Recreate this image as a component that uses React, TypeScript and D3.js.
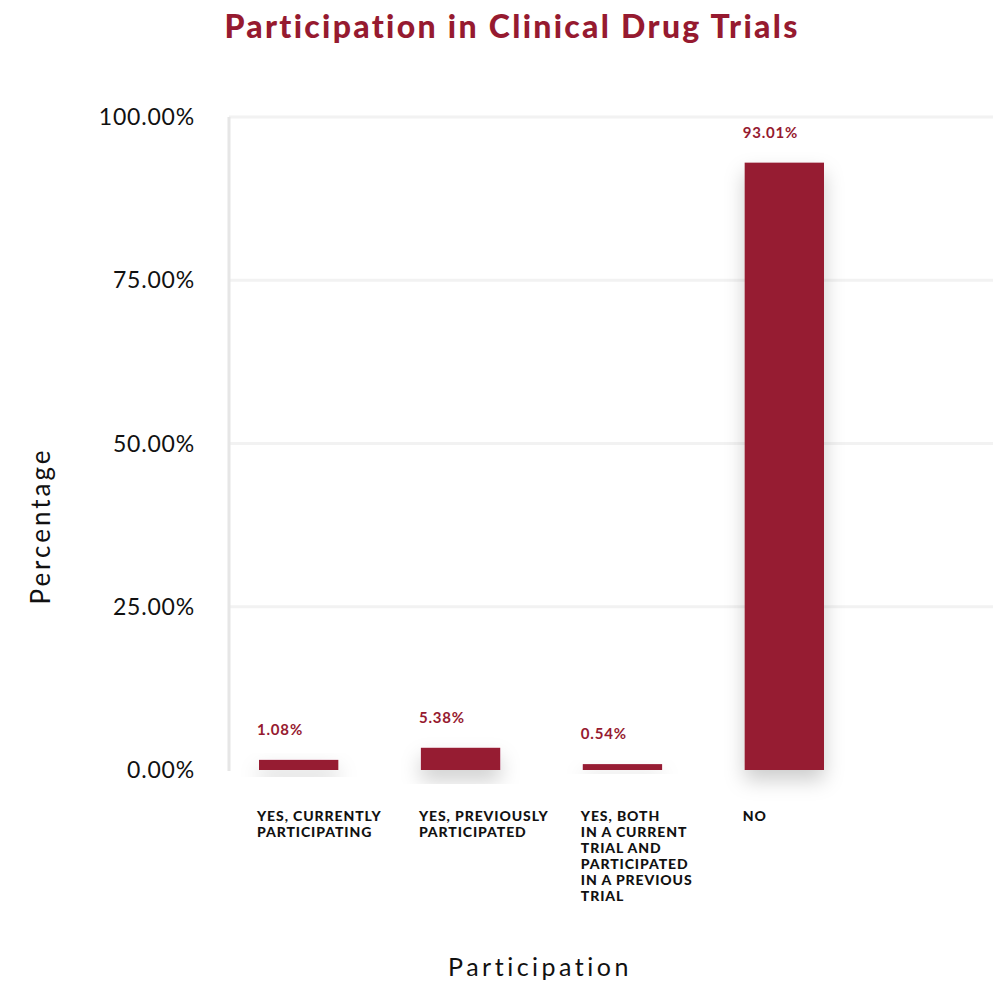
import * as d3 from "d3";

const categories = ["yes_current", "yes_previous", "yes_both", "no"];
const categoryLines = [
  ["YES, CURRENTLY", "PARTICIPATING"],
  ["YES, PREVIOUSLY", "PARTICIPATED"],
  ["YES, BOTH", "IN A CURRENT", "TRIAL AND", "PARTICIPATED", "IN A PREVIOUS", "TRIAL"],
  ["NO"],
];
// labels printed above the bars
const labelValues = [1.08, 5.38, 0.54, 93.01];
// bar heights as drawn in the picture
const barValues = [1.55, 3.4, 0.9, 93.01];
const yTicks = [0, 25, 50, 75, 100];

const width = 993;
const height = 982;
const red = "#961a30";
const font = "Lato, 'DejaVu Sans', sans-serif";

export default function App() {
  const x = d3
    .scaleBand<string>()
    .domain(categories)
    .range([259, 824])
    .paddingInner(0.51)
    .paddingOuter(0);
  const y = d3.scaleLinear().domain([0, 100]).range([770, 117]);

  return (
    <svg
      width={width}
      height={height}
      style={{ position: "absolute", left: 0, top: 0, background: "#fff" }}
    >
      <defs>
        <filter id="shadow" x="-60%" y="-60%" width="220%" height="220%">
          <feDropShadow dx="0" dy="10" stdDeviation="10" floodColor="#000" floodOpacity="0.2" />
        </filter>
      </defs>
      <text
        x={512}
        y={38}
        textAnchor="middle"
        fontFamily={font}
        fontWeight={900}
        fontSize={32}
        letterSpacing={2.3}
        fill={red}
      >
        Participation in Clinical Drug Trials
      </text>

      {yTicks.map((t) => (
        <g key={t}>
          {t > 0 && (
            <line x1={229} x2={width} y1={y(t)} y2={y(t)} stroke="#f2f2f2" strokeWidth={3} />
          )}
          <text
            x={195}
            y={y(t) + 8}
            textAnchor="end"
            fontFamily={font}
            fontSize={23}
            letterSpacing={0.8}
            fill="#111"
          >
            {d3.format(".2f")(t)}%
          </text>
        </g>
      ))}
      <line x1={229} x2={229} y1={117} y2={771} stroke="#e6e6e6" strokeWidth={3} />

      {categories.map((c, i) => (
        <g key={c}>
          <rect
            x={x(c)}
            y={y(barValues[i])}
            width={x.bandwidth()}
            height={y(0) - y(barValues[i])}
            fill={red}
            filter="url(#shadow)"
          />
          <text
            x={(x(c) as number) - 2}
            y={y(barValues[i]) - 25}
            fontFamily={font}
            fontWeight={700}
            fontSize={15}
            letterSpacing={0.8}
            fill={red}
          >
            {d3.format(".2f")(labelValues[i])}%
          </text>
          <text
            x={(x(c) as number) - 2}
            y={821}
            fontFamily={font}
            fontWeight={900}
            fontSize={14}
            letterSpacing={0.9}
            fill="#111"
          >
            {categoryLines[i].map((line, j) => (
              <tspan key={j} x={(x(c) as number) - 2} dy={j === 0 ? 0 : 16}>
                {line}
              </tspan>
            ))}
          </text>
        </g>
      ))}

      <text
        transform={`translate(50,526) rotate(-90)`}
        textAnchor="middle"
        fontFamily={font}
        fontSize={26}
        letterSpacing={3}
        fill="#111"
      >
        Percentage
      </text>
      <text
        x={540}
        y={976}
        textAnchor="middle"
        fontFamily={font}
        fontSize={25}
        letterSpacing={3.5}
        fill="#111"
      >
        Participation
      </text>
    </svg>
  );
}
